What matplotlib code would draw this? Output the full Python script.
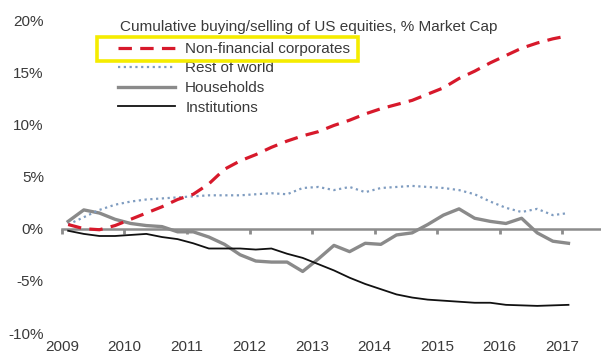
import matplotlib
matplotlib.use("Agg")
import matplotlib.pyplot as plt
from matplotlib.patches import Rectangle

plt.rcParams['font.family'] = ['Liberation Sans', 'DejaVu Sans']

# Quarterly observations (decimal year)
dates = [2009.1 + 0.25 * i for i in range(33)]

corporates = [0.4, 0.0, -0.1, 0.3, 0.9, 1.5, 2.1, 2.8, 3.3, 4.3, 5.7, 6.5,
              7.1, 7.8, 8.4, 8.9, 9.3, 9.9, 10.4, 11.0, 11.5, 11.9, 12.3, 12.9,
              13.5, 14.4, 15.1, 15.9, 16.6, 17.3, 17.8, 18.2, 18.5]
rest_of_world = [0.4, 1.1, 1.8, 2.3, 2.6, 2.8, 2.9, 3.0, 3.1, 3.2, 3.2, 3.2,
                 3.3, 3.4, 3.3, 3.9, 4.0, 3.7, 4.0, 3.5, 3.9, 4.0, 4.1, 4.0,
                 3.9, 3.7, 3.3, 2.6, 2.0, 1.6, 1.9, 1.3, 1.5]
households = [0.7, 1.8, 1.5, 0.9, 0.5, 0.3, 0.2, -0.3, -0.3, -0.8, -1.5, -2.5,
              -3.1, -3.2, -3.2, -4.1, -2.9, -1.6, -2.2, -1.4, -1.5, -0.6, -0.4, 0.4,
              1.3, 1.9, 1.0, 0.7, 0.5, 1.0, -0.4, -1.2, -1.4]
institutions = [-0.2, -0.5, -0.7, -0.7, -0.6, -0.5, -0.8, -1.0, -1.4, -1.9, -1.9, -1.9,
                -2.0, -1.9, -2.4, -2.8, -3.4, -4.0, -4.7, -5.3, -5.8, -6.3, -6.6, -6.8,
                -6.9, -7.0, -7.1, -7.1, -7.3, -7.35, -7.4, -7.35, -7.3]

year_ticks = [2009, 2010, 2011, 2012, 2013, 2014, 2015, 2016, 2017]
pct_ticks = [-10, -5, 0, 5, 10, 15, 20]

series_labels = ["Non-financial corporates", "Rest of world", "Households", "Institutions"]
chart_title = "Cumulative buying/selling of US equities, % Market Cap"

text_color = "#3a3a3a"
zero_color = "#8c8c8c"
font_size = 11

fig = plt.figure(figsize=(6.01, 3.58), dpi=100)
ax = fig.add_axes([0.103, 0.0698, 0.897, 0.8742])

l1, = ax.plot(dates, corporates, color="#d7192b", lw=2.3, dashes=(4.2, 2.6),
              label=series_labels[0], zorder=5)
l2, = ax.plot(dates, rest_of_world, color="#7f9cc0", lw=1.6, dashes=(1.0, 1.6),
              label=series_labels[1], zorder=4)
l3, = ax.plot(dates, households, color="#8a8a8a", lw=2.4,
              label=series_labels[2], zorder=3)
l4, = ax.plot(dates, institutions, color="#111111", lw=1.3,
              label=series_labels[3], zorder=3)

ax.set_xlim(2009, 2017.62)
ax.set_ylim(-10, 20)

for s in ax.spines.values():
    s.set_visible(False)

ax.set_yticks(pct_ticks)
ax.set_yticklabels([f"{v}%" for v in pct_ticks])
ax.tick_params(axis='y', length=0, pad=13, labelsize=font_size, labelcolor=text_color)

ax.set_xticks(year_ticks)
ax.set_xticklabels([str(y) for y in year_ticks])
ax.tick_params(axis='x', length=0, pad=5, labelsize=font_size, labelcolor=text_color)

# Zero line carrying the year tick marks
zero_frac = (0 - (-10)) / 30
zax = ax.secondary_xaxis(zero_frac)
zax.set_xticks(year_ticks)
zax.set_xticklabels([])
zax.tick_params(axis='x', direction='out', length=3.5, width=2, color=zero_color)
zax.spines['bottom'].set_color(zero_color)
zax.spines['bottom'].set_linewidth(1.8)
zax.spines['bottom'].set_zorder(2)

fig.text(120 / 601, 1 - 27 / 358, chart_title, ha="left", va="center",
         fontsize=font_size, color=text_color)

leg = ax.legend(handles=[l1, l2, l3, l4], loc="upper left",
                bbox_to_anchor=(118 / 601, 1 - 42 / 358), bbox_transform=fig.transFigure,
                frameon=False, fontsize=font_size,
                handlelength=3.7, handletextpad=0.7, labelspacing=0.36,
                borderpad=0.0, borderaxespad=0.0)
for t in leg.get_texts():
    t.set_color(text_color)

# Yellow highlight box around the corporates entry
fig.canvas.draw()
renderer = fig.canvas.get_renderer()
tb = leg.get_texts()[0].get_window_extent(renderer)
hb = leg.legend_handles[0].get_window_extent(renderer)
x0 = hb.x0 - 21
x1 = tb.x1 + 8
cy = (tb.y0 + tb.y1) / 2
y0 = cy - 12
y1 = cy + 12
inv = fig.transFigure.inverted()
(fx0, fy0) = inv.transform((x0, y0))
(fx1, fy1) = inv.transform((x1, y1))
fig.patches.append(Rectangle((fx0, fy0), fx1 - fx0, fy1 - fy0, transform=fig.transFigure,
                             fill=False, edgecolor="#f5ec00", linewidth=2.6, zorder=10))

fig.savefig("out.png", dpi=100)
